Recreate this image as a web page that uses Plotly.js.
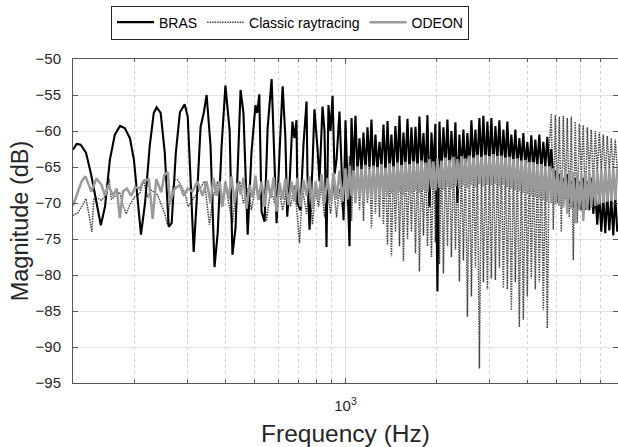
<!DOCTYPE html>
<html>
<head>
<meta charset="utf-8">
<script src="https://cdn.plot.ly/plotly-3.0.1.min.js"></script>
<style>html,body{margin:0;padding:0;background:#fff;}#chart{width:618px;height:447px;}</style>
</head>
<body>
<div id="chart"></div>
<script>
// ---- Data ----
const brasLoF = [125,128.5,132.5,138,143.5,149.2,154.6,159.6,165.6,172,179,185.5,193,199,205,210,216.6,224.6,231.5,236.5,244,251.8,259.5,265.4,274,282.6,293,300,306,314,324,331,339,346.5,357,368,377,388.6,400,413,422,432,449,459,474,488,503,510,518,527,539,552,569,582,591,605,619,632,641,652,667,677,688,693,709,726,743,748,760,777,789,808,820,839,852,865,878,892,906,920,934,955,970,985];
const brasLoDb = [-62.6,-61.8,-61.9,-63,-66,-70,-73.1,-70.5,-64,-60.5,-59.3,-59.6,-61,-64,-70,-74.4,-70,-62,-57.5,-56.7,-57.5,-63,-73.3,-72.8,-63,-57.4,-56.3,-58,-66,-76.8,-67,-59.4,-57.5,-55.0,-62,-78.9,-74.2,-62,-53.7,-59.9,-77.2,-73.5,-54.3,-57.5,-74.4,-63,-56.4,-57.5,-54.9,-71.2,-72.6,-59.6,-52.8,-64.5,-72.8,-62.6,-53.8,-60.8,-71.9,-67.6,-58.7,-61,-58.5,-70,-71,-61.7,-55.9,-66,-73.7,-65,-57,-62.5,-67,-56.6,-60,-76.1,-56.4,-60,-55.1,-66,-64,-57.3,-66,-72.4];

const classicLoF = [125,129.5,134.5,138,141,144.3,146.5,149.5,155.5,161.3,164.6,167.5,174,178.4,183,187.6,192.7,200.4,208,214.3,221,227,232,238.5,245,251,257,261,271.5,278,285,293,301,329,341,354,365,377,389,400,413,422,432,446,459,474,488,503,518,535,547,565,582,600,619,638,657,677,693,704,720,743,760,777,796,814,833,852,872,892,913,934,955,978];
const classicLoDb = [-71.7,-71.4,-70.3,-69.4,-71.5,-74,-69.5,-69.3,-69.6,-68.8,-66.6,-69.5,-68.9,-68.5,-70.3,-71.5,-70.3,-69.1,-68.7,-66.9,-69.2,-68.2,-68.5,-68.9,-70.2,-71.3,-73,-70.3,-66.8,-66.8,-67.6,-68.5,-70.5,-68,-67,-73,-69,-67,-70.5,-67.5,-71,-72.8,-69,-67,-70,-68,-71,-67.5,-69.5,-68,-72.5,-68,-70,-67.8,-71,-68,-70.5,-67.5,-72,-75.6,-68,-71.5,-67.5,-73,-68,-70.5,-67.5,-72,-68,-71.5,-67.5,-72,-68,-71];

const odeonLoF = [125,129.5,133.5,137.5,141,143.8,149.5,155.5,159.6,163.8,169.4,174.6,178.6,183,188.6,194.8,201,208,214.3,223,229.5,236,245,251,258,261.7,271.5,282.6,291,300,311,323,336,346.5,357,365,374,383,391,400,410,419,429,439,449,459,470,481,492,503,514,527,539,552,565,578,591,605,619,632,647,662,677,693,709,726,743,760,777,796,814,833,852,872,892,913,934,955,978];
const odeonLoDb = [-70.4,-68.5,-67,-66.3,-67.5,-68.4,-66.6,-67.5,-69,-67.5,-69,-68,-72.1,-68.4,-68,-69,-67.8,-68,-66.9,-66.7,-72.2,-66.7,-68.5,-66.1,-65.7,-70,-68,-67.5,-69,-68,-68.4,-67,-69,-67,-70,-66.5,-69,-67,-70.5,-67,-69.5,-66.3,-70,-67.2,-68.8,-66.5,-70.8,-67.5,-69.2,-66.2,-69.6,-67,-70.5,-66.8,-69.3,-66.4,-71.2,-67.2,-69.5,-66.6,-70.3,-67,-69.8,-66.5,-70.5,-66.8,-69,-66.3,-70.8,-67,-69.5,-66,-70,-66.5,-69.8,-65.8,-69.5,-65.5,-69.8];

const fHi = [1000,1015,1031,1047,1063,1079,1096,1113,1130,1147,1165,1183,1201,1219,1238,1257,1276,1296,1316,1336,1357,1378,1399,1420,1442,1464,1487,1510,1533,1556,1580,1605,1629,1654,1680,1706,1732,1758,1785,1813,1841,1869,1898,1927,1956,1986,2017,2048,2079,2111,2144,2177,2210,2244,2279,2314,2349,2385,2422,2459,2497,2535,2574,2614,2654,2695,2736,2778,2821,2864,2908,2953,2998,3044,3091,3139,3187,3236,3285,3336,3387,3439,3492,3545,3600,3655,3711,3768,3826,3885,3945,4005,4067,4129,4193,4257,4322,4389,4456,4525,4594,4665,4736,4809,4883,4958,5034,5112,5190,5270,5351,5433,5517,5602,5688,5775,5864,5954,6046,6139,6233,6329,6426,6525,6625,6727,6830,6935,7042,7150,7260,7371,7485,7600,7716,7835,7955];

const brasHiDb = [-58.5,-66,-76,-58.2,-65.5,-57.9,-66,-61,-65.5,-60.2,-66,-59.5,-65,-58.4,-66,-60.5,-65.5,-61.5,-65,-59.1,-66,-58.6,-65.5,-60.5,-66,-59.3,-65,-57.9,-66.5,-60.2,-65,-58.3,-66,-59.5,-65.5,-59.4,-66,-58,-65,-60.3,-66,-57.8,-70.5,-60.2,-65.5,-59,-82.3,-58.7,-66,-59.5,-65,-58.4,-66,-60,-65.5,-58.8,-70,-60.5,-65.5,-59.8,-66,-60.3,-65.5,-58.5,-64.5,-59.8,-65,-58.2,-64.5,-57.9,-65,-58.7,-64.5,-58.2,-65,-59.3,-64,-58.5,-65,-59.8,-64.5,-58.7,-65,-60.5,-64.5,-59.8,-65,-61,-64.5,-60.3,-65,-61.5,-65,-60.6,-65.5,-61.2,-65,-60.5,-65.5,-61.5,-65,-60.8,-65.5,-62.5,-66.5,-65.5,-68,-66,-68.5,-66.5,-69,-66,-70,-67,-70.5,-66.5,-70.5,-67,-71,-66.5,-70,-67,-71,-66.5,-71.5,-68.5,-73,-68.6,-74,-69,-74.2,-68.8,-73.8,-69.2,-74.5,-69,-74];

const classicHiDb = [-64,-70.5,-63.5,-72.5,-64,-69,-63.5,-71,-64,-72.5,-64,-70,-63.5,-73.5,-64,-71.5,-64,-72,-63.5,-73,-64,-75.8,-64,-77.4,-64,-74,-63.5,-76,-64,-78.1,-63.5,-75,-64,-74,-64,-77,-63.5,-79.5,-64,-74.5,-63.5,-76,-64,-77.5,-63.5,-75.5,-64,-78.5,-63.5,-79.8,-64,-76,-63.5,-77.5,-64,-76.5,-63.5,-80.9,-64,-78,-63.5,-85.8,-64,-83,-63.5,-79,-64,-93,-64,-81,-63.5,-82,-64,-80.5,-63.5,-80.7,-64,-79,-63.5,-81.8,-64,-82,-63.5,-84.9,-64,-81,-63.5,-87.2,-64,-86.2,-63.5,-83,-64,-80.5,-63.5,-82,-64,-81,-63.5,-84.9,-64,-87.4,-62,-57.6,-73.7,-57.8,-70,-58,-74,-57.9,-69.5,-58.2,-72,-58,-77.9,-58.7,-72.8,-59,-66,-59.2,-71,-59.5,-66,-59.8,-68,-60,-66,-60.2,-65.5,-60.5,-66.5,-60.7,-65.5,-61,-66,-61.2,-65.5];

const odeonHiDb = [-65.2,-69.5,-64.8,-69,-65.5,-70,-64.9,-69.2,-65.3,-69.6,-64.7,-69.3,-65.4,-69,-64.8,-69.5,-65,-68.8,-64.6,-69.2,-65.1,-68.9,-64.5,-68.7,-64.9,-69.1,-64.4,-68.5,-64.7,-68.9,-64.3,-68.4,-64.6,-68.7,-64.2,-68.3,-64.5,-68.6,-64.1,-68.2,-64.4,-68.5,-63.9,-68,-64.2,-68.3,-63.8,-67.9,-64.1,-68.2,-63.7,-67.8,-64,-68.1,-63.6,-67.7,-63.9,-68,-63.5,-67.6,-63.8,-67.9,-63.4,-67.5,-63.7,-67.8,-63.3,-67.4,-63.6,-67.7,-63.3,-67.5,-63.5,-67.6,-63.2,-67.4,-63.5,-67.7,-63.4,-67.5,-63.7,-67.8,-63.6,-68,-63.9,-68.2,-63.8,-68.4,-64.1,-68.6,-64,-68.8,-64.3,-69,-64.3,-69.2,-64.6,-69.4,-64.6,-69.6,-64.9,-69.8,-64.9,-70,-65.2,-70.2,-65.2,-70.4,-65.4,-70.6,-65.5,-71.5,-65.6,-70.8,-65.7,-72.8,-65.7,-71,-65.8,-72.5,-65.7,-71,-65.6,-70.6,-65.6,-70.4,-65.5,-70.2,-65.4,-70,-65.3,-69.8,-65.3,-69.7,-65.2,-69.6,-65.2];

const seriesNames = ['BRAS', 'Classic raytracing', 'ODEON'];
const yTickVals = [-95,-90,-85,-80,-75,-70,-65,-60,-55,-50];
const xTickVals = [1000];
const xTickText = ['10<sup>3</sup>'];
const xMinorVals = [200,300,400,500,600,700,800,900,2000,3000,4000,5000,6000,7000];

// ---- Traces ----
const FONT = 'Liberation Sans, Arial, Helvetica, sans-serif';
const classic = {
  x: classicLoF.concat(fHi), y: classicLoDb.concat(classicHiDb),
  type: 'scatter', mode: 'lines', name: seriesNames[1], legendrank: 2,
  line: {color: '#444444', width: 1.5, dash: '1.5px,1px'}
};
const bras = {
  x: brasLoF.concat(fHi), y: brasLoDb.concat(brasHiDb),
  type: 'scatter', mode: 'lines', name: seriesNames[0], legendrank: 1,
  line: {color: '#000000', width: 2.1}
};
const odeon = {
  x: odeonLoF.concat(fHi), y: odeonLoDb.concat(odeonHiDb),
  type: 'scatter', mode: 'lines', name: seriesNames[2], legendrank: 3,
  line: {color: '#9a9a9a', width: 2.5}
};

const layout = {
  width: 618, height: 447,
  margin: {l: 73, r: 0, t: 59, b: 64},
  paper_bgcolor: '#ffffff', plot_bgcolor: '#ffffff',
  font: {family: FONT, color: '#262626'},
  showlegend: true,
  legend: {
    orientation: 'h', x: 0.0697, xanchor: 'left', y: 1.165, yanchor: 'top',
    bordercolor: '#262626', borderwidth: 1, bgcolor: '#ffffff',
    font: {family: FONT, size: 14, color: '#000000'},
    traceorder: 'normal', itemwidth: 37
  },
  xaxis: {
    type: 'log', range: [Math.log10(125), Math.log10(8000)],
    tickmode: 'array', tickvals: xTickVals, ticktext: xTickText,
    tickfont: {size: 15, color: '#262626'}, ticklabelstandoff: 9,
    ticks: 'inside', ticklen: 5, tickcolor: '#555',
    showgrid: true, gridcolor: '#dedede', gridwidth: 1,
    minor: {tickmode: 'array', tickvals: xMinorVals, ticks: 'inside', ticklen: 3, tickcolor: '#555',
            showgrid: true, gridcolor: '#cfcfcf', griddash: 'dot', gridwidth: 1},
    showline: true, linecolor: '#555', linewidth: 1, mirror: 'ticks',
    zeroline: false,
    title: {text: 'Frequency (Hz)', font: {size: 24.5, color: '#262626', family: FONT}, standoff: 12}
  },
  yaxis: {
    range: [-95, -50], tickmode: 'array', tickvals: yTickVals,
    tickfont: {size: 15, color: '#262626'}, ticklabelstandoff: 8,
    ticks: 'inside', ticklen: 5, tickcolor: '#555',
    showgrid: true, gridcolor: '#e3e3e3', gridwidth: 1,
    showline: true, linecolor: '#555', linewidth: 1, mirror: 'ticks',
    zeroline: false,
    title: {text: 'Magnitude (dB)', font: {size: 23.5, color: '#262626', family: FONT}, standoff: 0}
  }
};

Plotly.newPlot('chart', [classic, bras, odeon], layout, {displayModeBar: false, staticPlot: true});
</script>
</body>
</html>
